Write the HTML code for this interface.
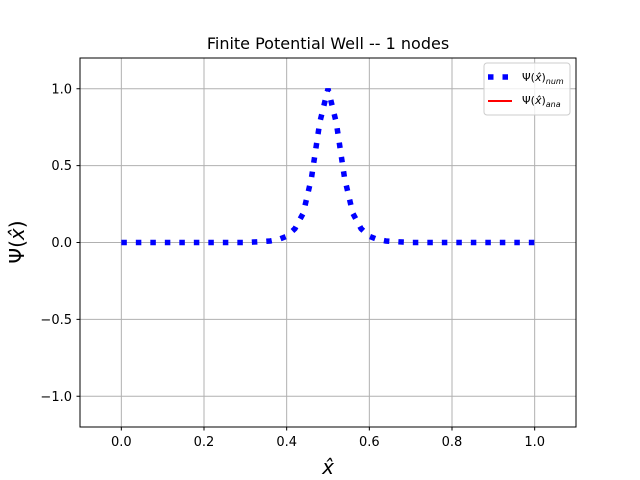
<!DOCTYPE html>
<html><head><meta charset="utf-8"><style>body{margin:0;background:#fff}svg{display:block}text{font-family:"DejaVu Sans","Liberation Sans",sans-serif}</style></head>
<body>
<svg id="chart" width="640" height="480">
<rect x="0" y="0" width="640" height="480" fill="#fff"/>
<g id="grid"></g>
<g id="series"></g>
<rect x="80" y="58" width="496" height="369" fill="none" stroke="#000" stroke-width="1"/>
<g id="ticks"></g>
<text x="328" y="49" text-anchor="middle" font-size="16">Finite Potential Well -- 1 nodes</text>
<text x="328" y="474" text-anchor="middle" font-size="20" font-style="italic">x̂</text>
<text transform="translate(24,242) rotate(-90)" text-anchor="middle" font-size="20">Ψ(<tspan font-style="italic">x̂</tspan>)</text>
<g>
<rect x="484" y="63" width="86" height="52" rx="3" fill="#fff" fill-opacity="0.8" stroke="#ccc"/>
<line x1="488" y1="77" x2="512" y2="77" stroke="#00f" stroke-width="5.5" stroke-dasharray="5.5 9"/>
<text x="522" y="81" font-size="11">Ψ(<tspan font-style="italic">x̂</tspan>)<tspan font-size="8" font-style="italic" dy="3">num</tspan></text>
<line x1="488" y1="101" x2="512" y2="101" stroke="#f00" stroke-width="2"/>
<text x="522" y="104" font-size="11">Ψ(<tspan font-style="italic">x̂</tspan>)<tspan font-size="8" font-style="italic" dy="3">ana</tspan></text>
</g>
</svg>
<script>
const xTicks=[0.0,0.2,0.4,0.6,0.8,1.0];
const xTickLabels=["0.0","0.2","0.4","0.6","0.8","1.0"];
const yTicks=[-1.0,-0.5,0.0,0.5,1.0];
const yTickLabels=["−1.0","−0.5","0.0","0.5","1.0"];
const xs=[0,0.02,0.04,0.06,0.08,0.1,0.12,0.14,0.16,0.18,0.2,0.22,0.24,0.26,0.28,0.3,0.32,0.34,0.36,0.38,0.4,0.42,0.44,0.46,0.48,0.5,0.52,0.54,0.56,0.58,0.6,0.62,0.64,0.66,0.68,0.7,0.72,0.74,0.76,0.78,0.8,0.82,0.84,0.86,0.88,0.9,0.92,0.94,0.96,0.98,1.0];
const psiNum=[0,0,0,0,0,0,0,0,0,0,0,0,0,0,0,0,0.003,0.006,0.01,0.02,0.04,0.09,0.19,0.42,0.78,1.0,0.78,0.42,0.19,0.09,0.04,0.02,0.01,0.006,0.003,0,0,0,0,0,0,0,0,0,0,0,0,0,0,0,0];
const X=v=>80+(v+0.1)/1.2*496, Y=v=>427-(v+1.2)/2.4*369;
const NS="http://www.w3.org/2000/svg";
const grid=document.getElementById('grid'),ticks=document.getElementById('ticks'),series=document.getElementById('series');
function mk(tag,at,par){const e=document.createElementNS(NS,tag);for(const k in at)e.setAttribute(k,at[k]);par.appendChild(e);return e;}
xTicks.forEach((v,i)=>{
 const g=mk('line',{x1:X(v),x2:X(v),y1:58,y2:427,stroke:'#b0b0b0','stroke-width':1},grid);
 
 
 mk('line',{x1:X(v),x2:X(v),y1:427,y2:430.5,stroke:'#000'},ticks);
 const t=mk('text',{x:X(v),y:446,'text-anchor':'middle','font-size':13},ticks);t.textContent=xTickLabels[i];
 
 
});
yTicks.forEach((v,i)=>{
 const g=mk('line',{x1:80,x2:576,y1:Y(v),y2:Y(v),stroke:'#b0b0b0','stroke-width':1},grid);
 
 
 mk('line',{x1:76.5,x2:80,y1:Y(v),y2:Y(v),stroke:'#000'},ticks);
 const t=mk('text',{x:72,y:Y(v)+4.5,'text-anchor':'end','font-size':13},ticks);t.textContent=yTickLabels[i];
 
 
});
const p=mk('polyline',{points:xs.map((x,i)=>X(x)+','+Y(psiNum[i])).join(' '),fill:'none',stroke:'#00f','stroke-width':5.5,'stroke-dasharray':'5.5 9'},series);


</script>
</body></html>
